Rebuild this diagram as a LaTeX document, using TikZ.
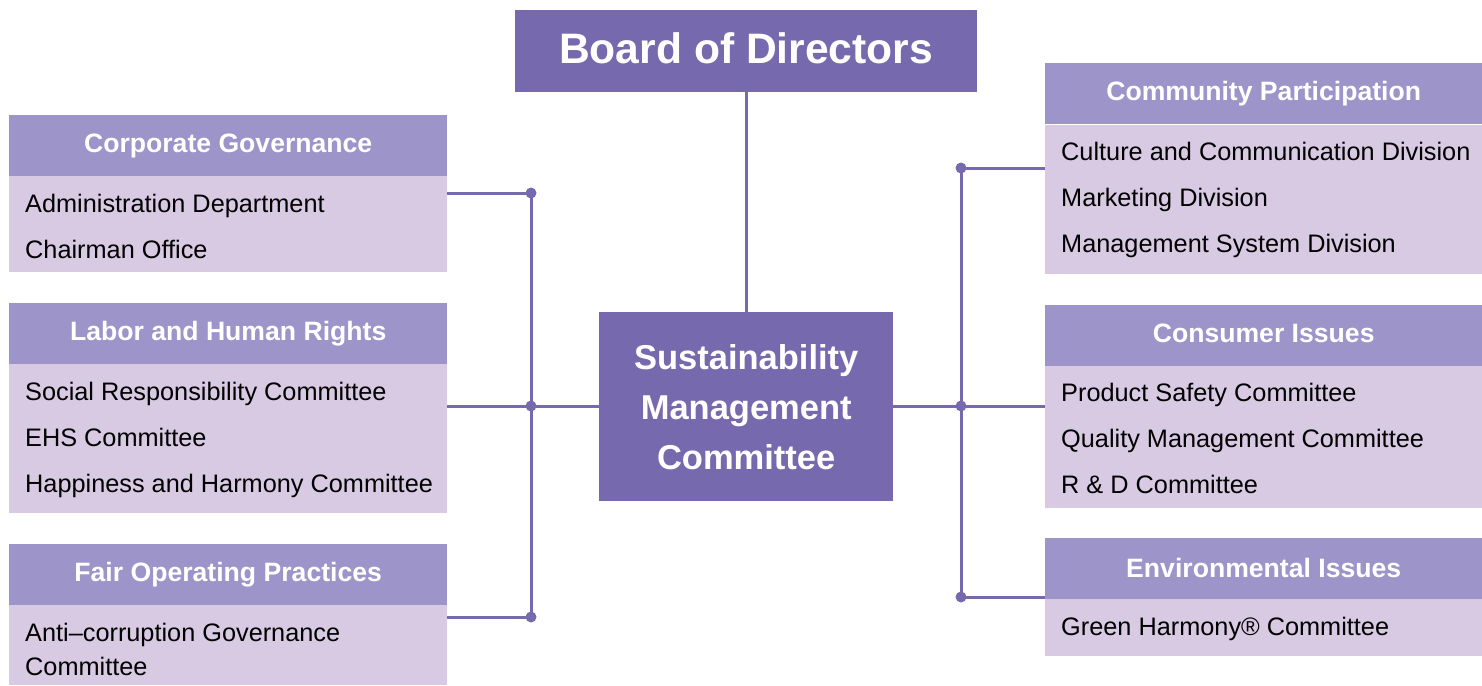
\documentclass[tikz,border=0pt]{standalone}
\usepackage{fontspec}
\setmainfont{Liberation Sans}
\definecolor{dk}{HTML}{7669AD}
\definecolor{hd}{HTML}{9D95C9}
\definecolor{bd}{HTML}{D9CAE4}
\begin{document}
\begin{tikzpicture}[x=1pt,y=-1pt,
  mainbox/.style={fill=dk, text=white, inner sep=0pt, anchor=north west, align=center, font=\bfseries},
  hdbox/.style={fill=hd, text=white, inner sep=0pt, anchor=north west, minimum width=438pt, minimum height=61pt,
     font=\fontsize{26.6}{30}\selectfont\bfseries, text height=19pt, text depth=5pt},
  bdbox/.style={fill=bd, inner sep=0pt, anchor=north west, minimum width=438pt},
  item/.style={anchor=base west, inner sep=0pt, font=\fontsize{25.3}{30}\selectfont, text=black},
  link/.style={draw=dk, line width=3pt},
  dot/.style={fill=dk}]
\useasboundingbox (0,0) rectangle (1482,685);

% main boxes
\node[mainbox, minimum width=462pt, minimum height=82pt, font=\fontsize{42.6}{48}\selectfont\bfseries,
      text height=30.5pt, text depth=6pt] (board) at (515,10) {Board of Directors};
\node[mainbox, minimum width=294pt, minimum height=189pt, font=\fontsize{34.5}{50}\selectfont\bfseries] (smc) at (599,312)
  {Sustainability\\Management\\Committee};

% left column
\node[hdbox] (cgh) at (9,115) {Corporate Governance};
\node[bdbox, minimum height=96pt] (cgb) at (9,176) {};
\node[item] (cg1) at (25,212) {Administration Department};
\node[item] (cg2) at (25,258) {Chairman Office};

\node[hdbox] (lhh) at (9,303) {Labor and Human Rights};
\node[bdbox, minimum height=149pt] (lhb) at (9,364) {};
\node[item] (lh1) at (25,400) {Social Responsibility Committee};
\node[item] (lh2) at (25,446) {EHS Committee};
\node[item] (lh3) at (25,492) {Happiness and Harmony Committee};

\node[hdbox] (foh) at (9,544) {Fair Operating Practices};
\node[bdbox, minimum height=80pt] (fob) at (9,605) {};
\node[item] (fo1) at (25,641) {Anti–corruption Governance};
\node[item] (fo2) at (25,675) {Committee};

% right column
\node[hdbox, minimum width=437pt] (cph) at (1045,63) {Community Participation};
\node[bdbox, minimum width=437pt, minimum height=149pt] (cpb) at (1045,125) {};
\node[item] (cp1) at (1061,160) {Culture and Communication Division};
\node[item] (cp2) at (1061,206) {Marketing Division};
\node[item] (cp3) at (1061,252) {Management System Division};

\node[hdbox, minimum width=437pt] (cih) at (1045,305) {Consumer Issues};
\node[bdbox, minimum width=437pt, minimum height=142pt] (cib) at (1045,366) {};
\node[item] (ci1) at (1061,401) {Product Safety Committee};
\node[item] (ci2) at (1061,447) {Quality Management Committee};
\node[item] (ci3) at (1061,493) {R \& D Committee};

\node[hdbox, minimum width=437pt, text depth=1pt] (eih) at (1045,538) {Environmental Issues};
\node[bdbox, minimum width=437pt, minimum height=57pt] (eib) at (1045,599) {};
\node[item] (ei1) at (1061,635) {Green Harmony® Committee};

% junction points
\coordinate (L1) at (531,193);
\coordinate (L2) at (531,406);
\coordinate (L3) at (531,617);
\coordinate (R1) at (961,168);
\coordinate (R2) at (961,406);
\coordinate (R3) at (961,597);

% connectors
\draw[link] (board.south) -- (smc.north);
\draw[link] (L1) -- (L3);
\draw[link] (R1) -- (R3);
\draw[link] (L1 -| cgb.east) -- (L1);
\draw[link] (L2 -| lhb.east) -- (L2 -| smc.west);
\draw[link] (L3 -| fob.east) -- (L3);
\draw[link] (R1) -- (R1 -| cpb.west);
\draw[link] (R2 -| smc.east) -- (R2 -| cib.west);
\draw[link] (R3) -- (R3 -| eib.west);

\foreach \p in {L1,L2,L3,R1,R2,R3} \fill[dot] (\p) circle (5.5pt);
\end{tikzpicture}
\end{document}
